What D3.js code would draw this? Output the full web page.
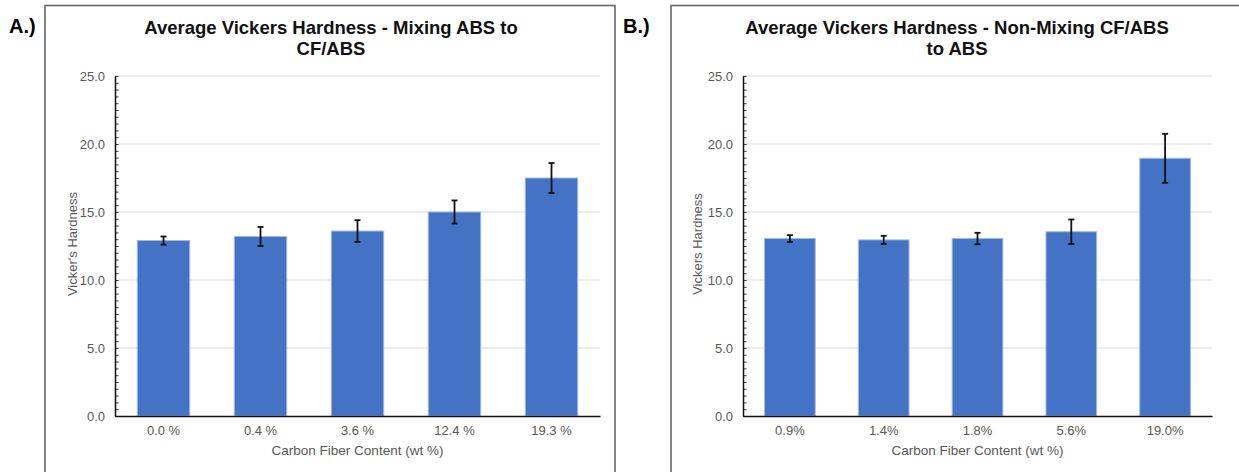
<!DOCTYPE html>
<html>
<head>
<meta charset="utf-8">
<script src="https://cdn.jsdelivr.net/npm/d3@7"></script>
<style>
  body { margin: 0; background: #fff; }
  svg { display: block; font-family: "Liberation Sans", Arial, sans-serif; }
</style>
</head>
<body>
<div class="chart"></div>
<script>
//chart data
const catsA = ['0.0 %', '0.4 %', '3.6 %', '12.4 %', '19.3 %'];
const meanA = [12.9, 13.2, 13.6, 15.0, 17.5];
const errA = [0.3, 0.7, 0.8, 0.85, 1.1];

const catsB = ['0.9%', '1.4%', '1.8%', '5.6%', '19.0%'];
const meanB = [13.05, 12.95, 13.05, 13.55, 18.95];
const errB = [0.25, 0.3, 0.42, 0.9, 1.8];

const yTicks = [0, 5, 10, 15, 20, 25];

//set up SVG
const SVGWIDTH = 1239;
const SVGHEIGHT = 472;

let svg = d3.select('.chart')
    .append('svg')
    .attr('width', SVGWIDTH)
    .attr('height', SVGHEIGHT);

const TEXTGREY = '#595959';

function drawPanel(opts) {
    //frame
    svg.append('rect')
        .attr('x', opts.frame[0])
        .attr('y', 5.5)
        .attr('width', opts.frame[1])
        .attr('height', 500)
        .attr('fill', 'none')
        .attr('stroke', '#666')
        .attr('stroke-width', 1.6);

    //panel letter
    svg.append('text')
        .attr('x', opts.letterX)
        .attr('y', 33)
        .attr('font-size', 20)
        .attr('font-weight', 'bold')
        .text(opts.letter);

    let x = d3.scaleBand()
        .domain(opts.cats)
        .range([opts.left, opts.right])
        .paddingInner(0.46)
        .paddingOuter(0.23);

    let y = d3.scaleLinear()
        .domain([0, 25])
        .range([416, 76]);

    //title
    let title = svg.append('text')
        .attr('text-anchor', 'middle')
        .attr('font-size', 18.5)
        .attr('font-weight', 'bold')
        .attr('fill', '#111');
    opts.title.forEach(function(line, i) {
        title.append('tspan')
            .attr('x', opts.titleX)
            .attr('y', 34 + i * 21)
            .text(line);
    });

    //gridlines
    svg.append('g')
        .selectAll('line')
        .data(yTicks.slice(1))
        .enter()
        .append('line')
        .attr('x1', opts.left)
        .attr('x2', opts.right)
        .attr('y1', d => y(d))
        .attr('y2', d => y(d))
        .attr('stroke', '#d9d9d9')
        .attr('stroke-width', 1.2);

    //bars
    let data = opts.cats.map((c, i) => ({cat: c, mean: opts.mean[i], err: opts.err[i]}));
    svg.append('g')
        .selectAll('rect')
        .data(data)
        .enter()
        .append('rect')
        .attr('x', d => x(d.cat))
        .attr('y', d => y(d.mean))
        .attr('width', x.bandwidth())
        .attr('height', d => y(0) - y(d.mean))
        .attr('fill', '#4472c4')
        .attr('stroke', '#9fb8e6')
        .attr('stroke-width', 1);

    //error bars
    let eb = svg.append('g')
        .selectAll('g')
        .data(data)
        .enter()
        .append('g')
        .attr('stroke', '#111')
        .attr('stroke-width', 1.8);
    let cx = d => x(d.cat) + x.bandwidth() / 2;
    eb.append('line')
        .attr('x1', cx).attr('x2', cx)
        .attr('y1', d => y(d.mean + d.err))
        .attr('y2', d => y(d.mean - d.err));
    eb.append('line')
        .attr('x1', d => cx(d) - 3).attr('x2', d => cx(d) + 3)
        .attr('y1', d => y(d.mean + d.err))
        .attr('y2', d => y(d.mean + d.err));
    eb.append('line')
        .attr('x1', d => cx(d) - 3).attr('x2', d => cx(d) + 3)
        .attr('y1', d => y(d.mean - d.err))
        .attr('y2', d => y(d.mean - d.err));

    //minor ticks on y axis
    let minor = d3.range(0, 25.01, 0.5);
    svg.append('g')
        .attr('transform', `translate(${opts.left}, 0)`)
        .call(d3.axisLeft(y).tickValues(minor).tickSize(-3.5).tickFormat(''))
        .call(g => g.select('.domain').remove())
        .call(g => g.selectAll('line').attr('stroke', '#222').attr('stroke-width', 0.9));

    //y axis
    svg.append('g')
        .attr('transform', `translate(${opts.left}, 0)`)
        .call(d3.axisLeft(y).tickValues(yTicks).tickSize(0).tickPadding(10).tickFormat(d3.format('.1f')))
        .call(g => g.select('.domain').attr('stroke', '#111').attr('stroke-width', 1.5))
        .call(g => g.selectAll('text')
            .attr('font-size', 13)
            .attr('fill', TEXTGREY)
            .attr('font-family', '"Liberation Sans", Arial, sans-serif'));

    //x axis
    svg.append('g')
        .attr('transform', `translate(0, ${y(0)})`)
        .call(d3.axisBottom(x).tickSize(0).tickPadding(10))
        .call(g => g.select('.domain').attr('stroke', '#111').attr('stroke-width', 1.5))
        .call(g => g.selectAll('text')
            .attr('font-size', 13)
            .attr('fill', TEXTGREY)
            .attr('font-family', '"Liberation Sans", Arial, sans-serif'));

    //axis labels
    svg.append('text')
        .attr('x', (opts.left + opts.right) / 2)
        .attr('y', 455)
        .attr('text-anchor', 'middle')
        .attr('font-size', 13.5)
        .attr('fill', TEXTGREY)
        .text('Carbon Fiber Content (wt %)');

    svg.append('text')
        .attr('transform', `translate(${opts.yLabelX}, 244) rotate(-90)`)
        .attr('text-anchor', 'middle')
        .attr('font-size', 13)
        .attr('fill', TEXTGREY)
        .text(opts.yLabel);
}

drawPanel({
    frame: [45, 570],
    letter: 'A.)',
    letterX: 9,
    title: ['Average Vickers Hardness - Mixing ABS to', 'CF/ABS'],
    titleX: 331,
    cats: catsA, mean: meanA, err: errA,
    left: 115, right: 600,
    yLabel: "Vicker's Hardness",
    yLabelX: 77
});

drawPanel({
    frame: [671, 600],
    letter: 'B.)',
    letterX: 623,
    title: ['Average Vickers Hardness - Non-Mixing CF/ABS', 'to ABS'],
    titleX: 957,
    cats: catsB, mean: meanB, err: errB,
    left: 743, right: 1212,
    yLabel: 'Vickers Hardness',
    yLabelX: 702
});
</script>
</body>
</html>
